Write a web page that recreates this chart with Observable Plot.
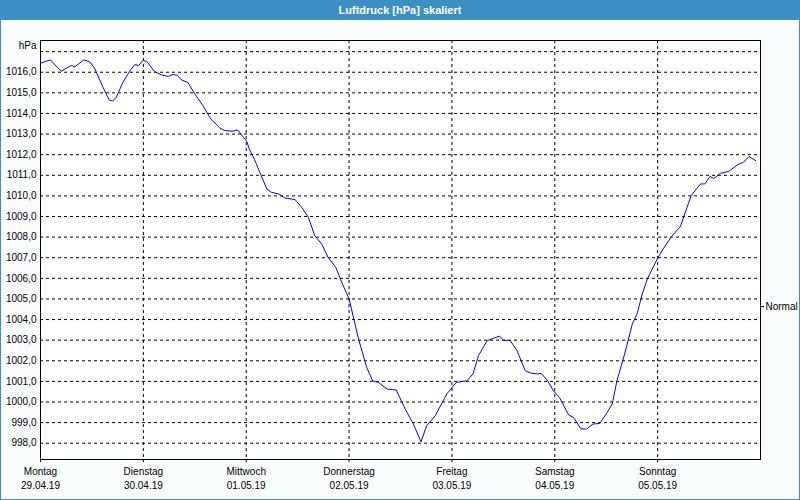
<!DOCTYPE html>
<html>
<head>
<meta charset="utf-8">
<script src="https://cdn.jsdelivr.net/npm/d3@7"></script>
<script src="https://cdn.jsdelivr.net/npm/@observablehq/plot@0.6"></script>
<style>
  html, body { margin: 0; padding: 0; background: #fafdfd; }
  #wrap { position: relative; width: 800px; height: 500px; overflow: hidden; background: #fafdfd; font-family: "Liberation Sans", Arial, sans-serif; }
  #title { height: 20px; line-height: 20px; background: #3c8fc3; color: #fff; text-align: center; font-size: 11px; font-weight: bold; }
  #border { position: absolute; left: 0; top: 0; width: 800px; height: 500px; box-sizing: border-box; border: 1px solid #3c8fc3; pointer-events: none; }
  svg { display: block; }
</style>
</head>
<body>
<div id="wrap">
  <div id="title">Luftdruck [hPa] skaliert</div>
  <div id="chart"></div>
  <div id="border"></div>
</div>
<script>
// hours since Montag 29.04.19 00:00
const hours = [0, 2.3, 4.8, 7.2, 8.0, 10.1, 11.5, 12.6, 14.6, 16.0, 16.8, 17.7, 19.2, 20.8, 22.0, 22.9, 23.9, 24.8,
  26.6, 28.2, 29.8, 30.9, 31.9, 32.9, 34.4, 36.0, 37.9, 39.7, 41.8, 43.0, 44.9, 46.0, 48.1, 48.8, 49.9, 51.0,
  52.8, 53.9, 55.5, 57.0, 59.4, 60.9, 62.5, 64.0, 65.6, 67.1, 68.9, 70.3, 72.0, 74.2, 76.1, 77.5, 78.8, 80.9,
  83.0, 85.1, 87.0, 88.8, 90.1, 92.1, 94.8, 97.0, 99.5, 100.9, 102.2, 104.2, 107.1, 108.0, 109.6, 111.2, 113.1,
  114.3, 115.9, 116.8, 118.2, 119.7, 121.1, 123.2, 124.4, 126.1, 127.4, 128.9, 130.5, 132.0, 133.4, 134.5,
  136.3, 138.1, 139.2, 140.4, 141.6, 143.9, 145.3, 147.2, 149.3, 151.8, 154.0, 155.0, 156.2, 157.1, 158.7,
  160.6, 162.7, 164.0, 165.3, 166.9];
const pressure = [1016.44, 1016.6, 1016.05, 1016.33, 1016.26, 1016.6, 1016.5, 1016.2, 1015.27, 1014.66, 1014.6, 1014.79, 1015.5, 1016.05, 1016.37, 1016.33, 1016.57, 1016.53,
  1016.03, 1015.87, 1015.8, 1015.89, 1015.85, 1015.63, 1015.5, 1014.95, 1014.38, 1013.74, 1013.3, 1013.17, 1013.14, 1013.2, 1012.65, 1012.23, 1011.78, 1011.23,
  1010.34, 1010.17, 1010.1, 1009.9, 1009.82, 1009.45, 1008.96, 1008.07, 1007.67, 1007.02, 1006.53, 1005.8, 1005.0, 1003.06, 1001.68, 1001.03, 1000.95, 1000.63,
  1000.58, 999.66, 998.93, 998.07, 998.85, 999.33, 1000.39, 1000.95, 1001.03, 1001.36, 1002.25, 1002.97, 1003.2, 1003.0, 1002.98, 1002.49, 1001.52,
  1001.41, 1001.36, 1001.39, 1001.07, 1000.54, 1000.22, 999.38, 999.25, 998.69, 998.69, 998.93, 998.96, 999.42, 999.9, 1001.03,
  1002.33, 1003.79, 1004.27, 1005.24, 1005.97, 1006.94, 1007.43, 1008.02, 1008.51, 1010.01, 1010.58, 1010.58, 1010.94, 1010.85, 1011.1,
  1011.19, 1011.52, 1011.63, 1011.91, 1011.71];

const dayNames = ["Montag", "Dienstag", "Mittwoch", "Donnerstag", "Freitag", "Samstag", "Sonntag"];
const dateLabels = ["29.04.19", "30.04.19", "01.05.19", "02.05.19", "03.05.19", "04.05.19", "05.05.19"];
const yTicks = [998, 999, 1000, 1001, 1002, 1003, 1004, 1005, 1006, 1007, 1008, 1009, 1010, 1011, 1012, 1013, 1014, 1015, 1016];
const yGrid = [998, 999, 1000, 1001, 1002, 1003, 1004, 1005, 1006, 1007, 1008, 1009, 1010, 1011, 1012, 1013, 1014, 1015, 1016, 1017];
const unitLabel = ["hPa"];
const unitLevel = 1017;
const normalLevel = 1004.63;
const normalLabel = "Normal";

const start = new Date(2019, 3, 29);
const end = new Date(2019, 4, 6);
const dayDates = dayNames.map((_, i) => new Date(2019, 3, 29 + i));
const data = hours.map((h, i) => ({t: new Date(+start + h * 3600e3), p: pressure[i]}));
const idx = d => dayDates.findIndex(x => +x === +d);

const chart = Plot.plot({
  width: 800,
  height: 480,
  marginLeft: 40,
  marginRight: 40,
  marginTop: 20,
  marginBottom: 41,
  x: {type: "time", domain: [start, end], label: null},
  y: {domain: [997.21, 1017.54], label: null},
  style: {fontFamily: "'Liberation Sans', Arial, sans-serif", fontSize: "10px", color: "black", background: "transparent", overflow: "visible"},
  marks: [
    Plot.frame({fill: "white"}),
    Plot.ruleY(yGrid, {stroke: "black", strokeDasharray: "3,3"}),
    Plot.ruleX(dayDates.slice(1), {stroke: "black", strokeDasharray: "3,3"}),
    Plot.line(data, {x: "t", y: "p", stroke: "#0000ff", strokeWidth: 1}),
    Plot.frame({stroke: "black"}),
    Plot.axisY(yTicks, {label: null, tickSize: 0, tickPadding: 4, tickFormat: d => d.toFixed(1).replace(".", ",")}),
    Plot.axisY([normalLevel], {label: null, anchor: "right", tickSize: 3, tickPadding: 2, tickFormat: () => normalLabel}),
    Plot.text(unitLabel, {y: () => unitLevel, text: d => d, frameAnchor: "left", textAnchor: "end", dx: -4, dy: -6}),
    Plot.axisX(dayDates, {label: null, tickSize: 3, tickPadding: 5, tickFormat: d => dayNames[idx(d)]}),
    Plot.axisX(dayDates, {label: null, tickSize: 0, tickPadding: 22, tickFormat: d => dateLabels[idx(d)]})
  ]
});
document.getElementById("chart").appendChild(chart);
</script>
</body>
</html>
